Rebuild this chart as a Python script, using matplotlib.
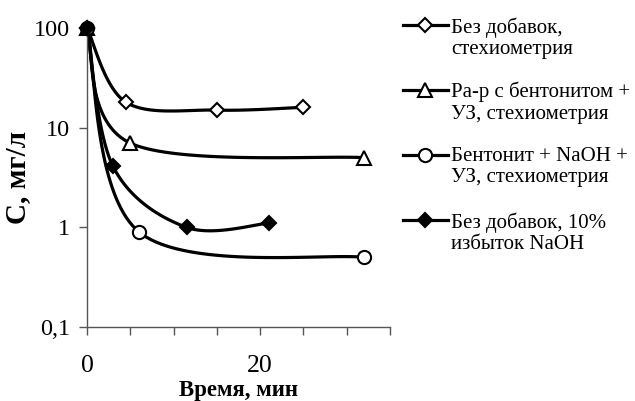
import numpy as np
import matplotlib
matplotlib.use("Agg")
import matplotlib.pyplot as plt
from matplotlib.lines import Line2D
from matplotlib.ticker import FixedLocator, FixedFormatter, MultipleLocator

t_plain = [0, 4.5, 15, 25]
c_plain = [100, 18, 15, 16]
t_bent = [0, 5, 32]
c_bent = [100, 7, 5]
t_bent_naoh = [0, 6, 32]
c_bent_naoh = [100, 0.9, 0.5]
t_excess = [0, 3, 11.5, 21]
c_excess = [100, 4.1, 1.0, 1.1]

labels = [
    "Без добавок,\nстехиометрия",
    "Ра-р с бентонитом +\nУЗ, стехиометрия",
    "Бентонит + NaOH +\nУЗ, стехиометрия",
    "Без добавок, 10%\nизбыток NaOH",
]
y_ticks = [0.1, 1, 10, 100]
y_tick_labels = ["0,1", "1", "10", "100"]
x_major = [0, 20]

plt.rcParams["font.family"] = ["Liberation Serif", "DejaVu Serif"]

W, H = 635, 401


def smooth(ax, xs, ys, n=40):
    # excel-style smoothed line: catmull-rom in display space
    pts = ax.transData.transform(np.column_stack([xs, ys]))
    p = np.vstack([pts[0], pts, pts[-1]])
    out = []
    for i in range(1, len(p) - 2):
        p0, p1, p2, p3 = p[i - 1], p[i], p[i + 1], p[i + 2]
        c1 = p1 + (p2 - p0) / 6.0
        c2 = p2 - (p3 - p1) / 6.0
        s = np.linspace(0, 1, n)[:, None]
        seg = ((1 - s) ** 3) * p1 + 3 * ((1 - s) ** 2) * s * c1 + 3 * (1 - s) * s ** 2 * c2 + s ** 3 * p2
        out.append(seg if i == 1 else seg[1:])
    seg = np.vstack(out)
    data = ax.transData.inverted().transform(seg)
    return data[:, 0], data[:, 1]


fig = plt.figure(figsize=(W / 100, H / 100), dpi=100)
ax = fig.add_axes([87 / W, 1 - 327 / H, 303 / W, 299 / H])
ax.set_yscale("log")
ax.set_xlim(0, 35)
ax.set_ylim(0.1, 100)

styles = [
    dict(marker="D", ms=7.5, mfc="white"),
    dict(marker="^", ms=10, mfc="white"),
    dict(marker="o", ms=9.5, mfc="white"),
    dict(marker="D", ms=7.5, mfc="black"),
]
series = [(t_plain, c_plain), (t_bent, c_bent), (t_bent_naoh, c_bent_naoh), (t_excess, c_excess)]
for (xs, ys), style in zip(series, styles):
    sx, sy = smooth(ax, xs, ys)
    ax.plot(sx, sy, color="black", lw=2.3, solid_capstyle="round", zorder=2)
    ax.plot(xs, ys, ls="none", mec="black", mew=1.5, zorder=3, clip_on=False, **style)

for side in ("top", "right"):
    ax.spines[side].set_visible(False)
for side in ("left", "bottom"):
    ax.spines[side].set_color("#555555")
    ax.spines[side].set_linewidth(1.0)

ax.yaxis.set_major_locator(FixedLocator(y_ticks))
ax.yaxis.set_major_formatter(FixedFormatter(y_tick_labels))
ax.yaxis.set_minor_locator(FixedLocator([]))
ax.xaxis.set_major_locator(FixedLocator(x_major))
ax.xaxis.set_minor_locator(MultipleLocator(5))
ax.tick_params(axis="both", which="both", direction="out", length=6, width=1.0, color="#555555")
ax.tick_params(axis="y", labelsize=17.5, pad=6)
ax.tick_params(axis="x", labelsize=18.5, pad=14)

ax.set_xlabel("Время, мин", fontsize=16.5, fontweight="bold", labelpad=2.5)
ax.set_ylabel("С, мг/л", fontsize=21, fontweight="bold", labelpad=2)

# legend: handle level with the first line of each two-line label
for i, (label, style) in enumerate(zip(labels, styles)):
    y = 1 - (25 + 65 * i) / H
    fig.add_artist(Line2D([403 / W, 448 / W], [y, y], transform=fig.transFigure,
                          color="black", lw=2.3))
    fig.add_artist(Line2D([425 / W], [y], transform=fig.transFigure, ls="none",
                          mec="black", mew=1.5, **style))
    fig.text(451 / W, y + 8 / H, label, fontsize=15, va="top", ha="left", linespacing=1.15)

fig.savefig("out.png", dpi=100)
